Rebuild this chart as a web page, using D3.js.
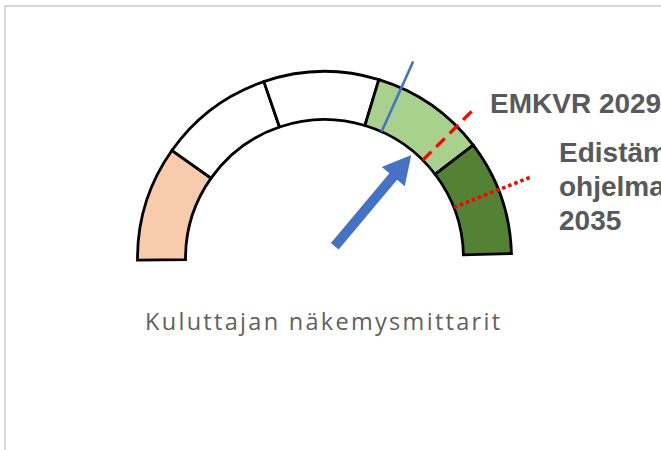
<!DOCTYPE html>
<html>
<head>
<meta charset="utf-8">
<script src="https://cdn.jsdelivr.net/npm/d3@7"></script>
<style>
  html, body { margin: 0; padding: 0; background: #fff; overflow: hidden; }
  svg { display: block; }
</style>
</head>
<body>
<div id="chart"></div>
<script>
// Gauge bands, on a 0-100 scale.
var bandEdges = [0, 20, 40, 60, 80, 100];
var bandColors = ['#f8cbad', '#ffffff', '#ffffff', '#a9d18e', '#548235'];

// Markers on the gauge.
var needleValue = 72.9;      // blue arrow
var currentValue = 64.1;     // thin blue line
var targetValues = [75.7, 88.8];
var targetStyles = ['dashed', 'dotted'];

// Labels.
var targetLabels = [['EMKVR 2029'], ['Edistämis-', 'ohjelma', '2035']];
var caption = 'Kuluttajan näkemysmittarit';

(function() {
  'use strict';

  var width = 661, height = 450;
  var cx = 324.5, cy = 258.5,
      rInner = 139, rOuter = 187;

  var deg = Math.PI / 180;

  // Value to angle (radians, 0 = up, clockwise).
  var angle = d3.scaleLinear()
      .domain([0, 100])
      .range([-90.5 * deg, 88.5 * deg]);

  var svg = d3.select('#chart').append('svg')
      .attr('width', width)
      .attr('height', height);

  // Faint frame round the slide.
  svg.append('rect')
      .attr('x', 5).attr('y', 6)
      .attr('width', width + 20).attr('height', height + 20)
      .attr('fill', 'none')
      .attr('stroke', '#d6d6d6')
      .attr('stroke-width', 2);

  var g = svg.append('g').attr('transform', translation(cx, cy));

  var arc = d3.arc()
      .innerRadius(rInner)
      .outerRadius(rOuter);

  var bands = d3.range(bandColors.length).map(function(i) {
    return {from: bandEdges[i], to: bandEdges[i + 1], color: bandColors[i]};
  });

  g.selectAll('.band')
      .data(bands)
      .enter()
      .append('path')
      .attr('class', 'band')
      .attr('d', function(d) {
        return arc({startAngle: angle(d.from), endAngle: angle(d.to)});
      })
      .attr('fill', function(d) { return d.color; })
      .attr('stroke', '#000')
      .attr('stroke-width', 2.8)
      .attr('stroke-linejoin', 'miter');

  // Point at radius r for a value.
  function pt(v, r) {
    var a = angle(v);
    return [r * Math.sin(a), -r * Math.cos(a)];
  }

  // Thin blue line for the current level.
  var c0 = pt(currentValue, rInner), c1 = pt(currentValue, 216);
  g.append('line')
      .attr('x1', c0[0]).attr('y1', c0[1])
      .attr('x2', c1[0]).attr('y2', c1[1])
      .attr('stroke', '#4472c4')
      .attr('stroke-width', 2.6);

  // Red target lines.
  var targetEnds = [208, 221];
  targetValues.forEach(function(v, i) {
    var p0 = pt(v, rInner), p1 = pt(v, targetEnds[i]);
    g.append('line')
        .attr('x1', p0[0]).attr('y1', p0[1])
        .attr('x2', p1[0]).attr('y2', p1[1])
        .attr('stroke', '#ff0000')
        .attr('stroke-width', targetStyles[i] === 'dashed' ? 3.2 : 3.6)
        .attr('stroke-dasharray', targetStyles[i] === 'dashed' ? '12,7' : '3.5,3');
  });

  // Blue arrow (needle), drawn along the x axis then rotated.
  var tailR = 16, tipR = 135, headLen = 28, headHalf = 15, shaftHalf = 5;
  var arrow = [
    [tailR, -shaftHalf],
    [tipR - headLen, -shaftHalf],
    [tipR - headLen, -headHalf],
    [tipR, 0],
    [tipR - headLen, headHalf],
    [tipR - headLen, shaftHalf],
    [tailR, shaftHalf]
  ];
  g.append('path')
      .attr('d', d3.line()(arrow) + 'Z')
      .attr('fill', '#4472c4')
      .attr('transform', 'rotate(' + (angle(needleValue) / deg - 90) + ')');

  // Target labels.
  var labelPos = [[490, 113], [559, 162]];
  targetLabels.forEach(function(lines, i) {
    var t = svg.append('text')
        .attr('x', labelPos[i][0])
        .attr('y', labelPos[i][1])
        .attr('font-family', 'Liberation Sans, Arial, sans-serif')
        .attr('font-weight', 'bold')
        .attr('font-size', 28)
        .attr('fill', '#58595b');
    lines.forEach(function(s, j) {
      t.append('tspan')
          .attr('x', labelPos[i][0])
          .attr('dy', j === 0 ? 0 : 34)
          .text(s);
    });
  });

  // Caption under the gauge.
  svg.append('text')
      .attr('x', 145)
      .attr('y', 330)
      .attr('font-family', 'Open Sans, sans-serif')
      .attr('font-size', 23.5)
      .attr('letter-spacing', 2.3)
      .attr('fill', '#606060')
      .text(caption);

  function translation(x, y) {
    return 'translate(' + x + ',' + y + ')';
  }
}());
</script>
</body>
</html>
